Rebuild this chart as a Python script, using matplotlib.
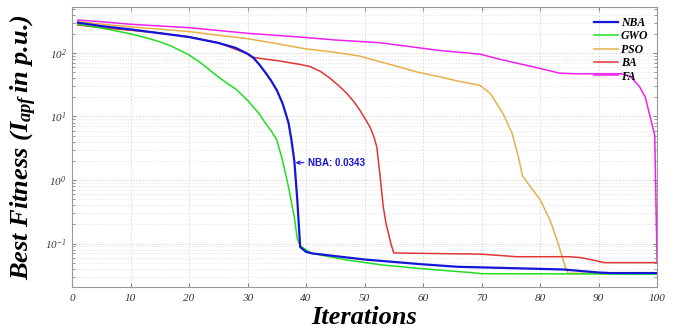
import matplotlib
matplotlib.use("Agg")
import matplotlib.pyplot as plt
from matplotlib.ticker import LogLocator, LogFormatterMathtext, NullFormatter

plt.rcParams["mathtext.fontset"] = "custom"
plt.rcParams["mathtext.it"] = "Liberation Serif:italic:bold"
plt.rcParams["mathtext.rm"] = "Liberation Serif:italic:bold"
plt.rcParams["mathtext.bf"] = "Liberation Serif:italic:bold"

# ---------------- data ----------------
nba_x = [1, 5, 10, 15, 20, 25, 28, 30, 31, 32, 33, 34, 35, 36, 37, 37.5, 38, 38.5, 39, 40, 41, 50, 60, 66, 75, 84, 90, 92, 100]
nba_y = [300, 265, 235, 205, 178, 144, 120, 97, 84, 66, 50, 37, 26, 16, 8, 4.3, 2.0, 0.5, 0.088, 0.074, 0.070, 0.056, 0.047, 0.043, 0.041, 0.039, 0.035, 0.0343, 0.0343]

gwo_x = [1, 5, 10, 13, 15, 17, 20, 22, 25, 27, 28, 30, 32, 33, 34, 35, 36, 37, 38, 38.5, 39, 40, 41, 47, 53, 60, 68, 70, 100]
gwo_y = [283, 248, 200, 170, 150, 128, 93, 70, 42, 31, 27, 18, 11, 8, 6, 4.3, 2.0, 0.78, 0.26, 0.12, 0.092, 0.08, 0.070, 0.055, 0.046, 0.040, 0.035, 0.0335, 0.033]

pso_x = [1, 5, 10, 15, 20, 25, 30, 35, 40, 45, 49, 52.6, 56, 59, 62.9, 66, 69.7, 71.5, 73.7, 75.2, 76.3, 77.0, 78.5, 80, 81.7, 83.1, 84.3, 84.8, 100]
pso_y = [310, 285, 258, 237, 217, 190, 168, 140, 116, 102, 90, 73, 60, 50, 42, 36, 31, 23, 11, 5.5, 2.3, 1.16, 0.75, 0.49, 0.235, 0.10, 0.043, 0.034, 0.034]

ba_x = [1, 5, 10, 15, 20, 25, 30, 31, 33, 35, 37.3, 39, 40.7, 42.5, 44.1, 45.5, 47, 48.2, 49.2, 50.1, 50.9, 51.6, 52.1, 52.6, 53.2, 53.7, 54.1, 54.5, 55, 70, 72, 76, 85, 87, 89, 91, 100]
ba_y = [275, 250, 228, 205, 180, 145, 97, 85, 80, 76, 70, 66, 61, 51, 40, 31, 23, 17, 12.6, 9.2, 6.9, 4.8, 3.3, 1.3, 0.38, 0.2, 0.144, 0.1, 0.071, 0.068, 0.066, 0.062, 0.062, 0.060, 0.055, 0.050, 0.050]

fa_x = [1, 5, 10, 20, 30, 40, 45, 52.6, 58, 62.9, 66, 69.7, 73, 77, 80, 83.4, 86, 94, 95.5, 97, 98, 98.8, 99.6, 100]
fa_y = [330, 310, 283, 250, 204, 175, 160, 145, 125, 109, 103, 96, 80, 66, 57, 48, 47, 47, 42, 29.5, 20, 10, 5, 0.05]

labels = ["NBA", "GWO", "PSO", "BA", "FA"]
colors = ["#1515d8", "#22dd22", "#e8b04a", "#e03535", "#ee22ee"]
widths = [1.6, 1.1, 1.1, 1.1, 1.1]

x_ticks = list(range(0, 101, 10))
annot_text = "NBA: 0.0343"

# ---------------- figure ----------------
fig = plt.figure(figsize=(6.76, 3.31), dpi=100)
ax = fig.add_axes([0.1065, 0.133, 0.8655, 0.846])

series = [(nba_x, nba_y), (gwo_x, gwo_y), (pso_x, pso_y), (ba_x, ba_y), (fa_x, fa_y)]
order = [4, 2, 3, 1, 0]
handles = {}
for i in order:
    xs, ys = series[i]
    h, = ax.plot(xs, ys, color=colors[i], lw=widths[i], label=labels[i], zorder=3 + (i == 0))
    handles[i] = h

ax.set_yscale("log")
ax.set_xlim(0, 100)
ax.set_ylim(0.0207, 530)
ax.set_xticks(x_ticks)
ax.yaxis.set_major_locator(LogLocator(base=10, numticks=10))
ax.yaxis.set_minor_locator(LogLocator(base=10, subs=range(2, 10), numticks=20))
ax.yaxis.set_minor_formatter(NullFormatter())
ax.yaxis.set_major_formatter(LogFormatterMathtext())

ax.grid(True, which="major", axis="both", color="#d4d4d4", ls=(0, (2, 2)), lw=0.6)
ax.grid(True, which="minor", axis="y", color="#e2e2e2", ls=(0, (2, 2)), lw=0.5)

ax.tick_params(which="both", direction="in", top=True, right=True, color="#888888")
ax.tick_params(which="major", length=3)
ax.tick_params(which="minor", length=2)
for sp in ax.spines.values():
    sp.set_color("#999999")
    sp.set_linewidth(0.8)

for lab in ax.get_xticklabels() + ax.get_yticklabels():
    lab.set_fontfamily("Liberation Serif")
    lab.set_fontstyle("italic")
    lab.set_fontsize(8)
    lab.set_color("#333333")
ax.tick_params(axis="x", pad=5)
ax.tick_params(axis="y", pad=4)

ax.set_xlabel("Iterations", family="Liberation Serif", style="italic", weight="bold", size=19, labelpad=2)
ax.set_ylabel(r"Best Fitness ($I_{apf}\,$in p.u.)", family="Liberation Serif",
              style="italic", weight="bold", size=19, labelpad=4)

leg = ax.legend([handles[i] for i in range(5)], labels, loc="upper right", frameon=False,
                bbox_to_anchor=(0.997, 0.99), handlelength=2.0, handletextpad=0.25,
                labelspacing=0.12, borderaxespad=0.2,
                prop=dict(family="Liberation Serif", style="italic", weight="bold", size=8.5))

ax.annotate(annot_text, xy=(38.2, 1.87), xytext=(9, 0), textcoords="offset points",
            va="center", ha="left", color="#1515d8", fontsize=7, fontweight="bold",
            family="Liberation Sans",
            arrowprops=dict(arrowstyle="->", color="#1515d8", lw=0.8, shrinkA=1, shrinkB=0,
                            mutation_scale=6), zorder=6)

fig.savefig("out.png", dpi=100)
